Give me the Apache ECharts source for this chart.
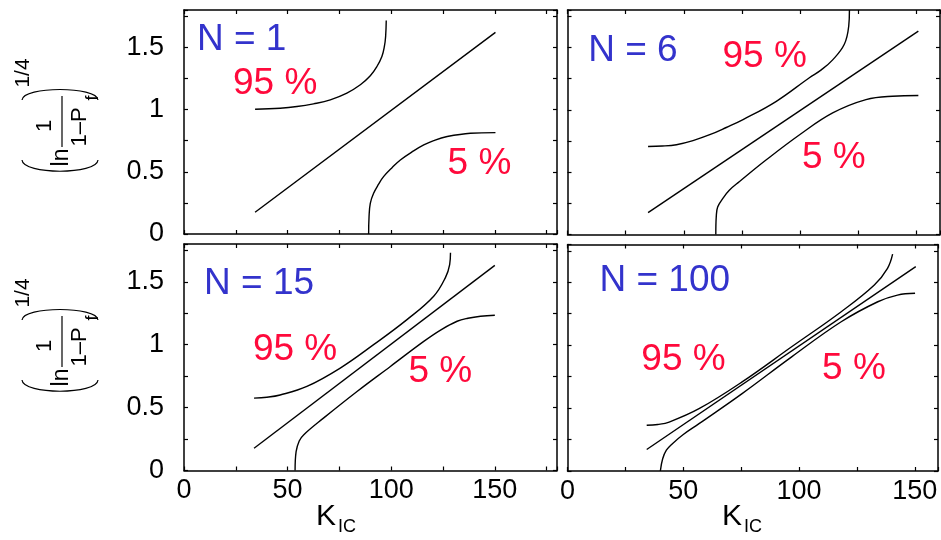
<!DOCTYPE html>
<html><head><meta charset="utf-8">
<script src="https://cdn.jsdelivr.net/npm/echarts@6/dist/echarts.min.js"></script>
<style>html,body{margin:0;padding:0;background:#fff}#c{width:941px;height:540px}</style>
</head><body><div id="c"></div>
<script>
// ---- data ----
const panelTitles = ['N = 1', 'N = 6', 'N = 15', 'N = 100'];
const xTickLabels = [0, 50, 100, 150];
const yTickLabels = [0, 0.5, 1, 1.5];

const median1 = [[34.3, 0.175], [150.3, 1.62]];
const median2 = [[34.6, 0.175], [150.7, 1.63]];
const median3 = [[33.8, 0.177], [150.0, 1.63]];
const median4 = [[34.2, 0.171], [150.4, 1.624]];

const upper1 = [[34.3,1.003],[46.4,1.011],[54.5,1.024],[62.5,1.046],[70.6,1.078],[78.6,1.132],[85.1,1.199],[89.9,1.271],[93.1,1.346],[95.5,1.426],[96.7,1.507],[97.3,1.587],[97.6,1.716]];
const lower1 = [[89.1,0.0],[89.3,0.139],[89.9,0.247],[91.5,0.327],[93.9,0.40],[96.3,0.461],[100.4,0.533],[104.4,0.595],[110.8,0.668],[115.7,0.716],[120.5,0.751],[127,0.783],[138.2,0.81],[150.3,0.815]];

const upper2 = [[34.6,0.706],[40.7,0.709],[46.8,0.72],[53.9,0.753],[61.1,0.80],[68.2,0.858],[75.4,0.921],[89.7,1.068],[103.9,1.257],[109,1.32],[113.9,1.40],[118.9,1.525],[120.8,1.672],[121.1,1.8]];
const lower2 = [[63.7,0],[63.9,0.143],[64.5,0.22],[66.8,0.291],[69.5,0.355],[73.9,0.425],[85.4,0.599],[99.7,0.80],[113.9,0.975],[128.2,1.082],[139.6,1.109],[150.7,1.114]];

const upper3 = [[33.8,0.575],[40,0.582],[46.4,0.60],[59.3,0.668],[75.4,0.814],[91.5,1.0],[107.6,1.199],[120.5,1.385],[126.1,1.531],[128.2,1.637],[128.6,1.73]];
const lower3 = [[53.6,0],[54.1,0.15],[55.6,0.235],[57.7,0.283],[67.3,0.416],[83.5,0.628],[99.6,0.827],[115.7,1.026],[124,1.118],[131.8,1.186],[137,1.21],[143.1,1.226],[150,1.234]];

const upper4 = [[34.2,0.363],[39,0.37],[43.9,0.389],[56.8,0.495],[75.4,0.708],[96.8,0.987],[118.2,1.266],[132.5,1.478],[138.2,1.611],[140.4,1.723]];
const lower4 = [[40.1,0],[41.1,0.097],[42.7,0.165],[45.3,0.217],[50,0.29],[56.8,0.376],[75.4,0.615],[96.8,0.907],[118.2,1.186],[134,1.345],[142.5,1.398],[150.1,1.412]];

// annotation anchor points (data coordinates) per panel
const titlePos = [[27.8, 1.557], [28.1, 1.472], [36.2, 1.486], [42.0, 1.51]];
const pct95Pos = [[44.0, 1.207], [84.7, 1.424], [53.6, 0.96], [50.1, 0.88]];
const pct5Pos  = [[142.6, 0.567], [114.4, 0.619], [123.7, 0.785], [123.7, 0.813]];

const medians = [median1, median2, median3, median4];
const uppers = [upper1, upper2, upper3, upper4];
const lowers = [lower1, lower2, lower3, lower4];

// ---- layout ----
const FONT = '"Liberation Sans", Arial, Helvetica, sans-serif';
const grids = [
  {left: 184, top: 10, width: 373, height: 224},
  {left: 567.5, top: 10, width: 372.5, height: 224.5},
  {left: 184, top: 244, width: 373, height: 226.5},
  {left: 567.5, top: 244.5, width: 372.5, height: 226.5}
];
const xMax = [180, 160, 180, 160];
const BLUE = '#3333cc';
const RED = '#ff0a3c';

function isMult(v, step) { return Math.abs(v / step - Math.round(v / step)) < 1e-6; }

const xAxes = [], yAxes = [], series = [];
for (let i = 0; i < 4; i++) {
  const showX = i >= 2, showY = i % 2 === 0;
  const base = {
    gridIndex: i, type: 'value',
    axisLine: {show: true, onZero: false, lineStyle: {color: '#000', width: 1.5}},
    axisTick: {show: true, inside: true, length: 4, lineStyle: {color: '#000', width: 1.2}},
    splitLine: {show: false}
  };
  xAxes.push(Object.assign({}, base, {
    position: 'bottom', min: 0, max: xMax[i], interval: 25,
    axisLabel: {show: showX, fontSize: 27, fontFamily: FONT, color: '#000', margin: 7,
      showMaxLabel: true, showMinLabel: true,
      formatter: v => xTickLabels.indexOf(Math.round(v)) >= 0 && isMult(v, 50) ? String(Math.round(v)) : ''}
  }));
  xAxes.push(Object.assign({}, base, {
    position: 'top', min: 0, max: xMax[i], interval: 25, axisLabel: {show: false}
  }));
  yAxes.push(Object.assign({}, base, {
    position: 'left', min: 0, max: 1.8, interval: 0.25,
    axisLabel: {show: showY, fontSize: 27, fontFamily: FONT, color: '#000', margin: 20,
      formatter: v => {
        const hit = yTickLabels.find(t => Math.abs(t - v) < 1e-6);
        return hit === undefined ? '' : String(hit);
      }}
  }));
  yAxes.push(Object.assign({}, base, {
    position: 'right', min: 0, max: 1.8, interval: 0.25, axisLabel: {show: false}
  }));

  const lineBase = {
    type: 'line', xAxisIndex: 2 * i, yAxisIndex: 2 * i, symbol: 'none',
    lineStyle: {color: '#000', width: 1.4}, silent: true, clip: true, z: 3
  };
  series.push(Object.assign({}, lineBase, {data: medians[i], smooth: false}));
  series.push(Object.assign({}, lineBase, {data: uppers[i], smooth: 0.4}));
  series.push(Object.assign({}, lineBase, {data: lowers[i], smooth: 0.4}));

  const ann = [
    [titlePos[i][0], titlePos[i][1], panelTitles[i], BLUE],
    [pct95Pos[i][0], pct95Pos[i][1], '95 %', RED],
    [pct5Pos[i][0], pct5Pos[i][1], '5 %', RED]
  ];
  series.push({
    type: 'scatter', xAxisIndex: 2 * i, yAxisIndex: 2 * i, silent: true,
    symbolSize: 1, itemStyle: {color: 'rgba(0,0,0,0)', opacity: 1}, z: 5,
    data: ann.map(a => ({value: [a[0], a[1]], name: a[2],
      label: {show: true, position: 'inside', formatter: a[2], color: a[3], opacity: 1,
        fontSize: 37, fontFamily: FONT}}))
  });
}

// ---- y-axis title: (ln 1/(1-P_f))^(1/4), drawn rotated ----
const R = Math.PI / 2;
function txt(x, y, text, size) {
  return {type: 'text', x: x, y: y, rotation: R, silent: true,
    style: {text: text, fontSize: size, fontFamily: FONT, fill: '#000',
      align: 'center', verticalAlign: 'middle', textAlign: 'center', textVerticalAlign: 'middle'}};
}
function yTitle(dy) {
  return [
    txt(23, 73 + dy, '1/4', 21),
    {type: 'bezierCurve', silent: true, shape: {x1: 22, y1: 160 + dy, cpx1: 23, cpy1: 175 + dy, cpx2: 97, cpy2: 175 + dy, x2: 98, y2: 160 + dy},
      style: {stroke: '#000', lineWidth: 1.2, fill: null}},
    {type: 'bezierCurve', silent: true, shape: {x1: 22, y1: 100 + dy, cpx1: 23, cpy1: 86 + dy, cpx2: 97, cpy2: 86 + dy, x2: 98, y2: 100 + dy},
      style: {stroke: '#000', lineWidth: 1.2, fill: null}},
    txt(61.5, 157.5 + dy, 'ln', 23),
    txt(45, 126 + dy, '1', 22),
    {type: 'line', silent: true, shape: {x1: 62, y1: 147 + dy, x2: 62, y2: 96 + dy}, style: {stroke: '#000', lineWidth: 1.2}},
    txt(80, 127 + dy, '1\u2013P', 22),
    txt(93, 98 + dy, 'f', 18)
  ];
}
const textStyle = (t, s) => ({text: t, fontSize: s, fontFamily: FONT, fill: '#000', align: 'center', verticalAlign: 'middle', textAlign: 'center', textVerticalAlign: 'middle'});
const graphic = [].concat(yTitle(0), yTitle(220), [
  {type: 'text', x: 326, y: 517, silent: true, style: textStyle('K', 30)},
  {type: 'text', x: 347, y: 527, silent: true, style: textStyle('IC', 18)},
  {type: 'text', x: 732, y: 517, silent: true, style: textStyle('K', 30)},
  {type: 'text', x: 753, y: 527, silent: true, style: textStyle('IC', 18)}
]);

const chart = echarts.init(document.getElementById('c'), null, {renderer: 'canvas'});
chart.setOption({
  animation: false,
  backgroundColor: '#fff',
  grid: grids.map(g => Object.assign({show: false, containLabel: false}, g)),
  xAxis: xAxes,
  yAxis: yAxes,
  series: series,
  graphic: graphic
});
</script>
</body></html>
